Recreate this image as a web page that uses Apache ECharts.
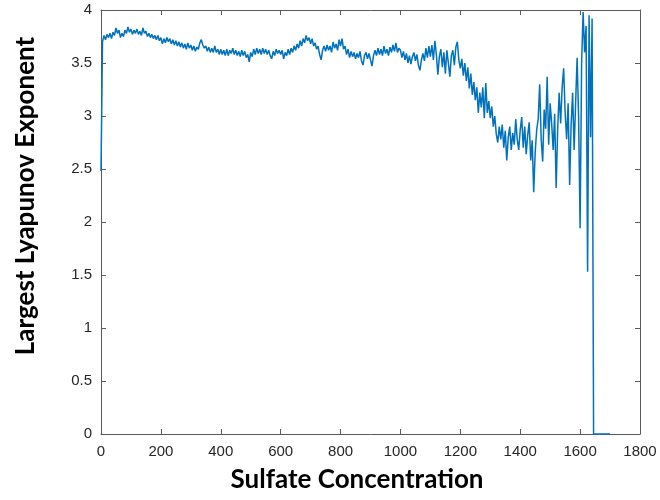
<!DOCTYPE html>
<html>
<head>
<meta charset="utf-8">
<script src="https://cdn.jsdelivr.net/npm/echarts@6/dist/echarts.min.js"></script>
<style>
  html, body { margin: 0; padding: 0; background: #fff; }
  #chart { width: 660px; height: 500px; }
</style>
</head>
<body>
<div id="chart"></div>
<script>
// sulfate concentration is sampled every 5 units, starting at 0
const sulfateStep = 5;

// largest Lyapunov exponent (one value per sample)
const lyapunov = [
  // 0 - 95
  2.48, 3.70, 3.76, 3.72, 3.77, 3.74, 3.78, 3.73, 3.79, 3.76, 3.83, 3.78, 3.81, 3.74, 3.78, 3.75, 3.81, 3.78, 3.84, 3.79,
  // 100 - 195
  3.82, 3.77, 3.81, 3.78, 3.82, 3.77, 3.80, 3.76, 3.83, 3.78, 3.80, 3.75, 3.78, 3.74, 3.77, 3.73, 3.76, 3.72, 3.76, 3.71,
  // 200 - 295
  3.74, 3.68, 3.73, 3.69, 3.74, 3.70, 3.73, 3.68, 3.72, 3.67, 3.71, 3.66, 3.70, 3.65, 3.69, 3.64, 3.68, 3.63, 3.69, 3.64,
  // 300 - 395
  3.67, 3.62, 3.66, 3.61, 3.65, 3.63, 3.69, 3.72, 3.67, 3.64, 3.66, 3.61, 3.65, 3.60, 3.64, 3.60, 3.66, 3.60, 3.63, 3.58,
  // 400 - 495
  3.63, 3.58, 3.62, 3.57, 3.63, 3.57, 3.62, 3.59, 3.64, 3.58, 3.62, 3.57, 3.61, 3.56, 3.62, 3.57, 3.61, 3.55, 3.58, 3.51,
  // 500 - 595
  3.60, 3.56, 3.63, 3.58, 3.64, 3.59, 3.63, 3.58, 3.64, 3.59, 3.63, 3.58, 3.62, 3.57, 3.54, 3.61, 3.57, 3.63, 3.59, 3.62,
  // 600 - 695
  3.58, 3.62, 3.54, 3.60, 3.57, 3.63, 3.58, 3.64, 3.60, 3.66, 3.62, 3.68, 3.64, 3.71, 3.66, 3.73, 3.69, 3.76, 3.71, 3.74,
  // 700 - 795
  3.68, 3.73, 3.66, 3.69, 3.63, 3.66, 3.58, 3.53, 3.62, 3.66, 3.61, 3.67, 3.62, 3.66, 3.60, 3.70, 3.64, 3.68, 3.62, 3.72,
  // 800 - 895
  3.66, 3.73, 3.63, 3.66, 3.58, 3.63, 3.55, 3.61, 3.56, 3.60, 3.54, 3.59, 3.55, 3.61, 3.52, 3.48, 3.57, 3.60, 3.54, 3.59,
  // 900 - 995
  3.53, 3.47, 3.57, 3.62, 3.57, 3.64, 3.58, 3.63, 3.57, 3.66, 3.59, 3.63, 3.57, 3.65, 3.60, 3.67, 3.61, 3.69, 3.60, 3.64,
  // 1000 - 1095
  3.62, 3.55, 3.61, 3.53, 3.59, 3.50, 3.57, 3.49, 3.56, 3.60, 3.52, 3.58, 3.48, 3.43, 3.53, 3.59, 3.52, 3.64, 3.55, 3.66,
  // 1100 - 1195
  3.56, 3.67, 3.53, 3.71, 3.58, 3.39, 3.56, 3.63, 3.46, 3.60, 3.40, 3.62, 3.50, 3.37, 3.57, 3.62, 3.48, 3.65, 3.70, 3.53,
  // 1200 - 1295
  3.45, 3.54, 3.38, 3.50, 3.33, 3.46, 3.26, 3.40, 3.20, 3.32, 3.15, 3.27, 3.03, 3.22, 3.08, 3.27, 2.98, 3.31, 3.03, 3.14,
  // 1300 - 1395
  2.98, 3.09, 2.90, 3.00, 2.83, 2.75, 2.90, 2.78, 2.92, 2.70, 2.86, 2.58, 2.80, 2.90, 2.68, 2.84, 2.73, 2.97, 2.78, 2.68,
  // 1400 - 1495
  2.87, 2.99, 2.70, 2.90, 2.64, 2.82, 2.94, 2.58, 2.77, 2.28, 2.66, 2.87, 2.97, 3.30, 2.78, 2.57, 3.06, 2.88, 3.37, 2.73,
  // 1500 - 1595
  3.12, 2.93, 2.68, 3.02, 2.32, 2.87, 3.22, 2.93, 3.27, 3.45, 3.03, 2.78, 3.12, 2.35, 2.92, 3.22, 2.68, 3.12, 3.55, 2.98,
  // 1600 - 1695
  1.94, 3.50, 3.98, 3.60, 3.85, 1.53, 3.95, 2.80, 3.92, 0, 0, 0, 0, 0, 0, 0, 0, 0, 0, 0,
  // 1700
  0
];

const xTicks = [0, 200, 400, 600, 800, 1000, 1200, 1400, 1600, 1800];
const yTicks = [0, 0.5, 1, 1.5, 2, 2.5, 3, 3.5, 4];

const chart = echarts.init(document.getElementById('chart'));

const points = lyapunov.map(function (v, i) {
  return [i * sulfateStep, v];
});

const axisColor = '#5a5a5a';
const labelColor = '#262626';

const boxAxis = {
  axisLine: { show: true, onZero: false, lineStyle: { color: axisColor, width: 1 } },
  axisTick: { show: true, inside: true, length: 5, lineStyle: { color: axisColor } },
  splitLine: { show: false }
};

const plainNumber = function (v) {
  return String(v);
};

const option = {
  animation: false,
  grid: { left: 101, right: 20, top: 10, bottom: 66 },
  xAxis: [
    Object.assign({
      type: 'value',
      min: xTicks[0],
      max: xTicks[xTicks.length - 1],
      interval: 200,
      axisLabel: {
        color: labelColor,
        fontFamily: 'Liberation Sans',
        fontSize: 15,
        margin: 10,
        formatter: plainNumber
      }
    }, boxAxis),
    Object.assign({
      type: 'value',
      position: 'top',
      min: xTicks[0],
      max: xTicks[xTicks.length - 1],
      interval: 200,
      axisLabel: { show: false }
    }, boxAxis)
  ],
  yAxis: [
    Object.assign({
      type: 'value',
      min: yTicks[0],
      max: yTicks[yTicks.length - 1],
      interval: 0.5,
      axisLabel: {
        color: labelColor,
        fontFamily: 'Liberation Sans',
        fontSize: 15,
        margin: 9,
        formatter: plainNumber
      }
    }, boxAxis),
    Object.assign({
      type: 'value',
      position: 'right',
      min: yTicks[0],
      max: yTicks[yTicks.length - 1],
      interval: 0.5,
      axisLabel: { show: false }
    }, boxAxis)
  ],
  graphic: [
    {
      type: 'text',
      x: 357,
      y: 480,
      style: {
        text: 'Sulfate Concentration',
        font: 'bold 26px Lato',
        fill: '#000',
        align: 'center',
        verticalAlign: 'middle'
      }
    },
    {
      type: 'text',
      x: 26,
      y: 196,
      rotation: Math.PI / 2,
      style: {
        text: 'Largest Lyapunov Exponent',
        font: 'bold 26px Lato',
        fill: '#000',
        align: 'center',
        verticalAlign: 'middle'
      }
    }
  ],
  series: [
    {
      type: 'line',
      data: points,
      showSymbol: false,
      symbol: 'none',
      lineStyle: { color: '#0072BD', width: 1.5 },
      z: 3
    }
  ]
};

chart.setOption(option);
</script>
</body>
</html>
